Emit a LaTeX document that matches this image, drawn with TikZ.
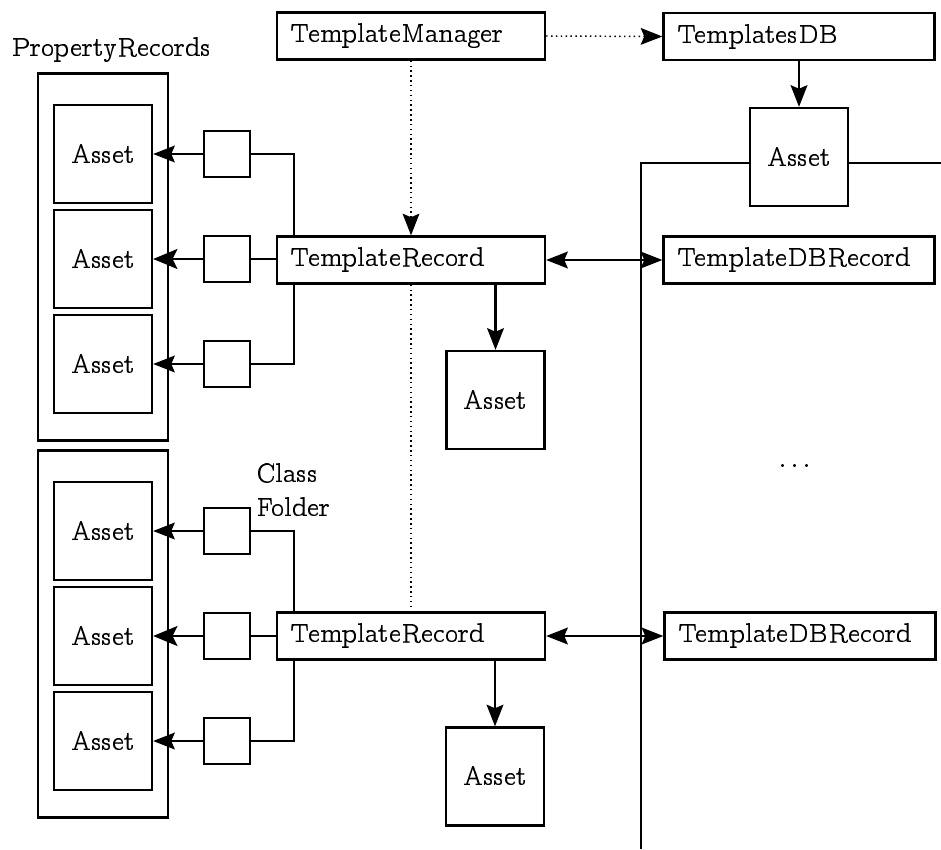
\documentclass[tikz,border=0pt]{standalone}
\usepackage[OT1]{fontenc}
\usepackage{ccfonts}
\usetikzlibrary{arrows.meta}
% one drawing unit
\newcommand\pxu{0.37pt}
\begin{document}
\begin{tikzpicture}[x=\pxu,y=-\pxu,
  font=\fontsize{10.4}{12.6}\selectfont,
  line width=0.85pt,
  box/.style={draw, rectangle, inner sep=0pt},
  wide/.style={box, minimum width=#1*\pxu, minimum height=47*\pxu},
  leftbox/.style={wide=268, text width=89pt, align=left},
  rightbox/.style={wide=271, text width=90pt, align=left},
  asset/.style={box, minimum size=98*\pxu},
  tag/.style={box, minimum size=46*\pxu},
  holder/.style={box, minimum width=130*\pxu, minimum height=367*\pxu},
  head/.tip={Stealth[length=8pt,width=6.2pt,inset=1.3pt]},
  bighead/.tip={Stealth[length=9pt,width=7.4pt,inset=1.8pt]},
  tip/.style={-head},
  bigtip/.style={-bighead},
  both/.style={head-head},
  dots/.style={line width=0.55pt, dash pattern=on 0.55pt off 1.25pt},
]
\useasboundingbox (0,0) rectangle (941,849);

% managers and databases
\node[leftbox]  (tm)    at (411,36)  {TemplateManager};
\node[rightbox] (tdb)   at (799,36.5) {TemplatesDB};
\node[asset]    (adb)   at (799,157) {Asset};
\node[rightbox] (tdbr1) at (799,260) {TemplateDBRecord};
\node[rightbox] (tdbr2) at (800,636) {TemplateDBRecord};

% template records
\node[leftbox] (tr1) at (411,260) {TemplateRecord};
\node[leftbox] (tr2) at (411,636) {TemplateRecord};
\node[asset]   (a1)  at (495.5,400) {Asset};
\node[asset]   (a2)  at (495,776.5) {Asset};

% property record containers
\node[holder] (h1) at (103,257) {};
\node[holder] (h2) at (103,634) {};
\node (prlabel) at (112,50) {PropertyRecords};
\node[align=left, anchor=north west, inner sep=0pt] (cflabel) at (255,463) {Class\\Folder};

\node[asset] (p1a) at (103,154) {Asset};
\node[asset] (p1b) at (103,259) {Asset};
\node[asset] (p1c) at (103,364) {Asset};
\node[asset] (p2a) at (103,531) {Asset};
\node[asset] (p2b) at (103,636) {Asset};
\node[asset] (p2c) at (103,741) {Asset};

\node[tag] (t1a) at (227,154) {};
\node[tag] (t1b) at (227,259) {};
\node[tag] (t1c) at (227,364) {};
\node[tag] (t2a) at (227,531) {};
\node[tag] (t2b) at (227,636) {};
\node[tag] (t2c) at (227,741) {};

\node (more) at (797,466) {\dots};

% database column
\coordinate (colbot) at (641,849);
\coordinate (rowend) at (941,163);
\draw (colbot) |- ([yshift=-6*\pxu]adb.west);
\draw ([yshift=-6*\pxu]adb.east) -- (rowend);

% manager links
\draw[dots, tip] (tm.east) -- (tdb.west);
\draw[dots, tip] (tm.south) -- (tr1.north);
\draw[dots] (tr1.south) -- (tr2.north);
\draw[tip] (tdb.south) -- (adb.north);

% record links
\draw[both] (tr1.east) -- (tdbr1.west);
\draw[both] (tr2.east) -- (tdbr2.west);
\draw[tip] (tr1.south -| a1.north) -- (a1.north);
\draw[tip] (tr2.south -| a2.north) -- (a2.north);

% first group of property records
\draw ([xshift=18*\pxu]tr1.north west) |- (t1a.east);
\draw (tr1.west |- t1b.east) -- (t1b.east);
\draw ([xshift=18*\pxu]tr1.south west) |- (t1c.east);
\draw[tip] (t1a.west) -- (p1a.east);
\draw[bigtip] (t1b.west) -- (p1b.east);
\draw[tip] (t1c.west) -- (p1c.east);

% second group of property records
\draw ([xshift=18*\pxu]tr2.north west) |- (t2a.east);
\draw (tr2.west) -- (t2b.east);
\draw ([xshift=18*\pxu]tr2.south west) |- (t2c.east);
\draw[tip] (t2a.west) -- (p2a.east);
\draw[bigtip] (t2b.west) -- (p2b.east);
\draw[tip] (t2c.west) -- (p2c.east);
\end{tikzpicture}
\end{document}
